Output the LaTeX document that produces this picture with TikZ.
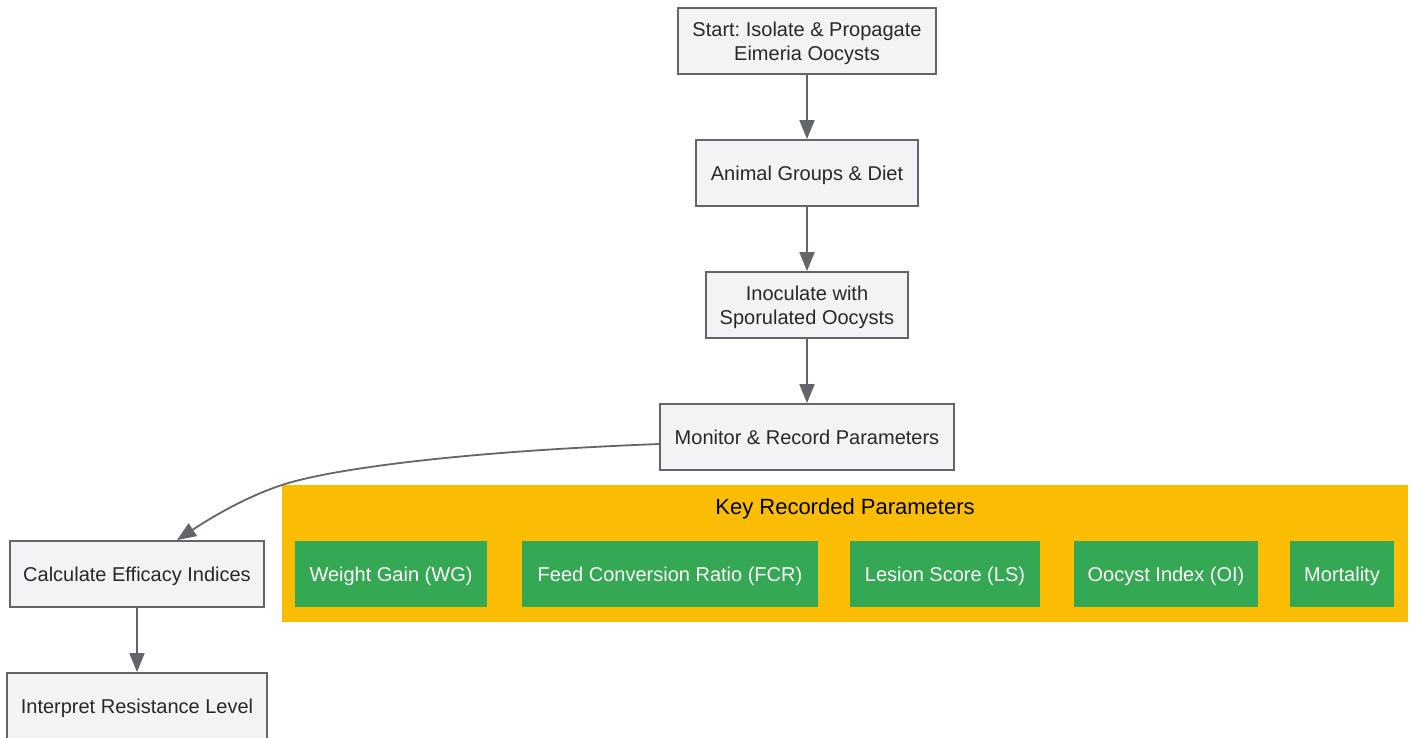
\documentclass[tikz,border=0pt]{standalone}
\usepackage{fontspec}
\setmainfont{Liberation Sans}
\usetikzlibrary{arrows.meta}
\frenchspacing
\newcommand{\topstrut}{\rule{0pt}{18.5pt}}
\definecolor{nodefill}{HTML}{F2F3F5}
\definecolor{nodeline}{HTML}{62656A}
\definecolor{txt}{HTML}{26282B}
\definecolor{clusteryellow}{HTML}{FBBC04}
\definecolor{paramgreen}{HTML}{34A853}
\tikzset{
  stepbox/.style={draw=nodeline, line width=1.8pt, fill=nodefill, text=txt,
    inner sep=0pt, minimum height=66pt, align=center,
    font=\fontsize{20pt}{24pt}\selectfont},
  oneline/.style={text height=18.5pt, text depth=4.5pt},
  parambox/.style={fill=paramgreen, text=white, inner sep=0pt, minimum height=66pt,
    text height=18.5pt, text depth=4.5pt,
    font=\fontsize{20pt}{24pt}\selectfont},
  flow/.style={draw=nodeline, line width=1.8pt, -{Triangle[length=19pt,width=15pt]}},
}
\begin{document}
\begin{tikzpicture}[x=1pt,y=-1pt]
\useasboundingbox (0,0) rectangle (1413,737);
% cluster
\node[fill=clusteryellow, minimum width=1126pt, minimum height=137pt, inner sep=0pt] (cluster) at (845,553.5) {};
\node[font=\fontsize{22pt}{26pt}\selectfont, text=black, inner sep=0pt, text height=19pt, text depth=5pt] (ctitle) at (845,507) {Key Recorded Parameters};
% main nodes
\node[stepbox, minimum width=258pt] (start) at (807,41) {\topstrut Start: Isolate \& Propagate\\Eimeria Oocysts};
\node[stepbox, oneline, minimum width=222pt] (groups) at (807,173) {Animal Groups \& Diet};
\node[stepbox, minimum width=202pt] (inoc) at (807,305) {\topstrut Inoculate with\\Sporulated Oocysts};
\node[stepbox, oneline, minimum width=294pt] (mon) at (807,437) {Monitor \& Record Parameters};
\node[stepbox, oneline, minimum width=254pt] (calc) at (137,574) {Calculate Efficacy Indices};
\node[stepbox, oneline, minimum width=260pt] (interp) at (137,706) {Interpret Resistance Level};
% parameters
\node[parambox, minimum width=192pt] (wg) at (391,574) {Weight Gain (WG)};
\node[parambox, minimum width=296pt] (fcr) at (670,574) {Feed Conversion Ratio (FCR)};
\node[parambox, minimum width=190pt] (ls) at (945,574) {Lesion Score (LS)};
\node[parambox, minimum width=184pt] (oi) at (1166,574) {Oocyst Index (OI)};
\node[parambox, minimum width=104pt] (mort) at (1342,574) {Mortality};
% connectors
\draw[flow] (start) -- (groups);
\draw[flow] (groups) -- (inoc);
\draw[flow] (inoc) -- (mon);
\coordinate (cend) at ([xshift=40pt]calc.north);
\draw[flow] ([yshift=-7pt]mon.west) .. controls (450,452) and (330,470) .. (285,484)
   .. controls (250,495) and (215,515) .. (cend);
\draw[flow] (calc) -- (interp);
\end{tikzpicture}
\end{document}
